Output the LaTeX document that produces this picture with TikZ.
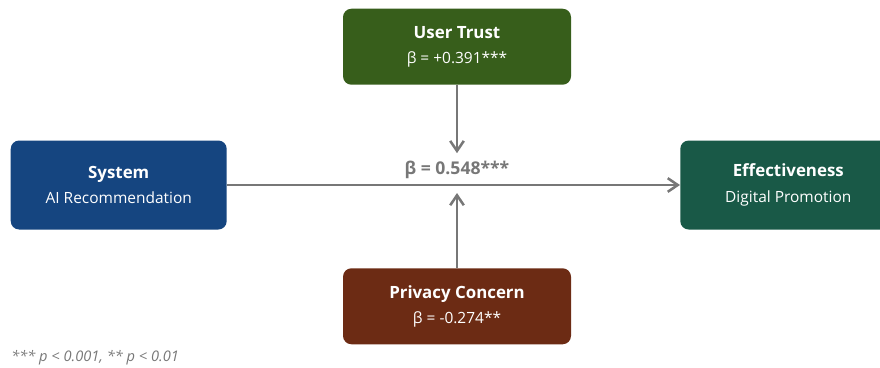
\documentclass[tikz,border=0pt]{standalone}
\usepackage{fontspec}
\setmainfont{Open Sans}
\usepackage{tikz}
\usetikzlibrary{
  arrows.meta,
  positioning
}
\definecolor{systemBlue}{RGB}{21, 69, 128}
\definecolor{trustGreen}{RGB}{55, 94, 27}
\definecolor{privacyBrown}{RGB}{108, 43, 20}
\definecolor{effectTeal}{RGB}{25, 89, 71}
\definecolor{pathGray}{RGB}{119, 119, 119}

\begin{document}
\begin{tikzpicture}[
    box/.style={rectangle, rounded corners=6pt, inner sep=4pt, align=center, text=white, minimum width=5.4cm, minimum height=2.225cm},
    modbox/.style={rectangle, rounded corners=6pt, inner sep=4pt, align=center, text=white, minimum width=5.7cm, minimum height=1.9cm},
    arrow/.style={-{Straight Barb[length=2.5mm, width=3.4mm]}, draw=pathGray, line width=1.8pt}
]
    \useasboundingbox (0,0) rectangle (22,-9.175);
    \clip (0,0) rectangle (22,-9.175);

    \coordinate (mid) at (11.425,-4.625);

    \node[box, fill=systemBlue, left=5.75cm of mid] (system) {
        \fontsize{12}{14}\selectfont\textbf{System} \\[6pt] \fontsize{11}{13}\selectfont AI Recommendation
    };

    \node[box, fill=effectTeal, right=5.575cm of mid] (effect) {
        \fontsize{12}{14}\selectfont\textbf{Effectiveness} \\[6pt] \fontsize{11}{13}\selectfont Digital Promotion
    };

    \node[modbox, fill=trustGreen, above=2.5cm of mid] (trust) {
        \fontsize{12}{14}\selectfont\textbf{User Trust} \\[6pt] \fontsize{11}{13}\selectfont β = +0.391***
    };

    \node[modbox, fill=privacyBrown, below=2.075cm of mid] (privacy) {
        \fontsize{12}{14}\selectfont\textbf{Privacy Concern} \\[6pt] \fontsize{11}{13}\selectfont β = -0.274**
    };

    \node[above=0.12cm of mid, text=pathGray, inner sep=1pt] (beta) {
        \fontsize{12.5}{14}\selectfont\textbf{β = 0.548***}
    };

    \coordinate[below=0.2cm of mid] (privTip);

    \draw[arrow] (system) -- (effect);
    \draw[arrow, shorten >=0.15cm] (trust) -- (beta);
    \draw[arrow] (privacy) -- (privTip);

    \node[anchor=west, text=pathGray, inner sep=0pt] (note) at (0.275,-8.95) {
        \fontsize{10.4}{12}\selectfont\itshape *** p < 0.001, ** p < 0.01
    };

\end{tikzpicture}
\end{document}
